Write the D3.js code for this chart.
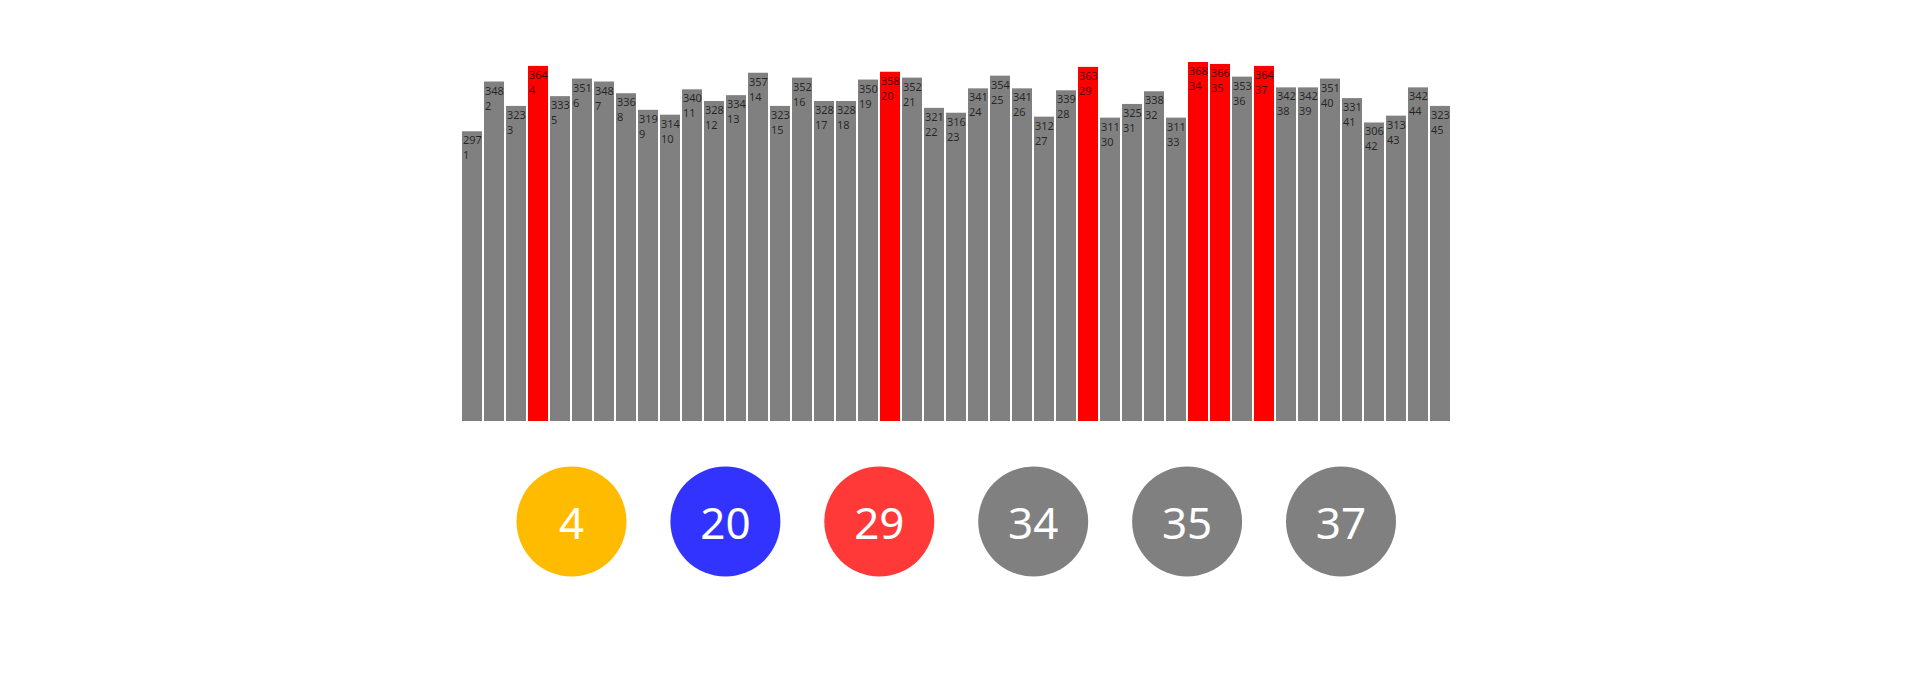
<!DOCTYPE html>
<html>
<head>
<meta charset="utf-8">
<script src="https://cdn.jsdelivr.net/npm/d3@7"></script>
<style>
    body { margin: 0; background: #fff; font-family: "Noto Sans", sans-serif; }
</style>
</head>
<body>
<div id="chart"></div>
<script>
// draw numbers 1..45 and how often each came up
const numbers = d3.range(1, 46);
const counts = [297, 348, 323, 364, 333, 351, 348, 336, 319, 314,
                340, 328, 334, 357, 323, 352, 328, 328, 350, 358,
                352, 321, 316, 341, 354, 341, 312, 339, 363, 311,
                325, 338, 311, 368, 366, 353, 364, 342, 342, 351,
                331, 306, 313, 342, 323];
// picked balls
const picks = [4, 20, 29, 34, 35, 37];
const ballColors = ["#ffbb00", "#3333ff", "#ff3838", "#808080", "#808080", "#808080"];

const width = 1915, height = 691;

const svg = d3.select("#chart").append("svg")
    .attr("width", width)
    .attr("height", height);

const x = d3.scaleBand()
    .domain(numbers)
    .range([462, 1450])
    .paddingInner(0.09)
    .paddingOuter(0);

const y = d3.scaleLinear()
    .domain([0, d3.max(counts)])
    .range([421, 62]);

const data = numbers.map((n, i) => ({num: n, count: counts[i]}));

const bars = svg.append("g").selectAll("g")
    .data(data)
    .join("g")
    .attr("transform", d => `translate(${x(d.num)},0)`);

bars.append("rect")
    .attr("y", d => y(d.count))
    .attr("width", x.bandwidth())
    .attr("height", d => y(0) - y(d.count))
    .attr("fill", d => picks.includes(d.num) ? "#ff0000" : "#808080");

bars.append("text")
    .attr("x", 1)
    .attr("y", d => y(d.count) + 13)
    .style("font-size", "11px")
    .style("fill", "#000")
    .style("fill-opacity", 0.72)
    .text(d => d.count);

bars.append("text")
    .attr("x", 1)
    .attr("y", d => y(d.count) + 28)
    .style("font-size", "11px")
    .style("fill", "#000")
    .style("fill-opacity", 0.72)
    .text(d => d.num);

// balls row
const bx = d3.scalePoint()
    .domain(picks)
    .range([571.5, 1341]);

const balls = svg.append("g").selectAll("g")
    .data(picks)
    .join("g")
    .attr("transform", d => `translate(${bx(d)},521.5)`);

balls.append("circle")
    .attr("r", 55)
    .attr("fill", (d, i) => ballColors[i]);

balls.append("text")
    .attr("text-anchor", "middle")
    .attr("y", 17.5)
    .style("font-size", "44px")
    .style("fill", "#fff")
    .text(d => d);
</script>
</body>
</html>
